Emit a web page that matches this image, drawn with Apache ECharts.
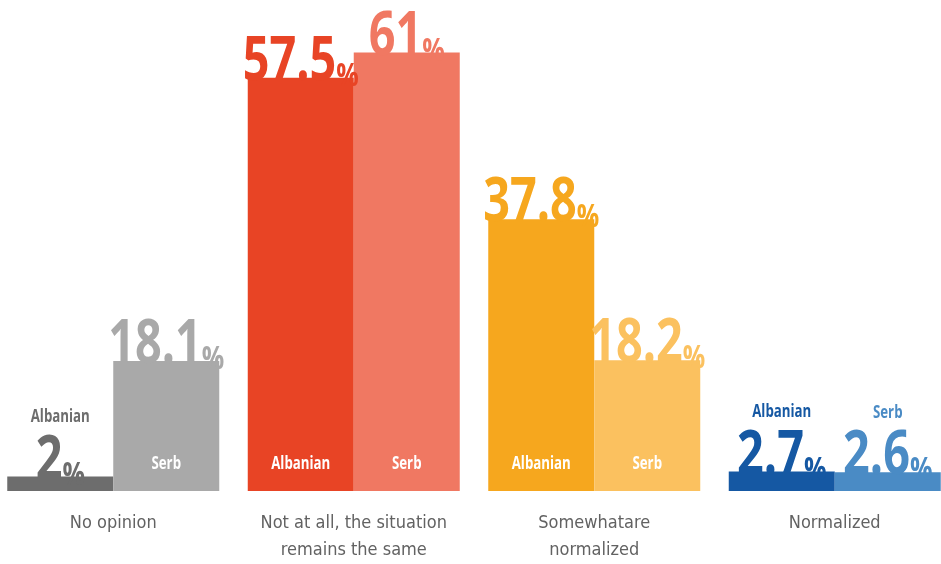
<!DOCTYPE html>
<html>
<head>
<meta charset="utf-8">
<style>
  html, body { margin: 0; padding: 0; background: #ffffff; overflow: hidden; }
  body { width: 941px; height: 564px; position: relative; }
  /* the plot runs slightly past both page edges */
  #chart { position: absolute; left: -7px; top: 0; width: 962px; height: 564px; }
</style>
<script src="https://cdn.jsdelivr.net/npm/echarts@6/dist/echarts.min.js"></script>
</head>
<body>
<div id="chart"></div>
<script>
// Survey answers split by respondent group
const categories = [
  'No opinion',
  'Not at all, the situation\nremains the same',
  'Somewhatare\nnormalized',
  'Normalized'
];
const groupNames = ['Albanian', 'Serb'];
const albanian = [2, 57.5, 37.8, 2.7];
const serb = [18.1, 61, 18.2, 2.6];

const albanianColors = ['#6d6d6d', '#e84425', '#f6a71e', '#1558a3'];
const serbColors = ['#a9a9a9', '#f07862', '#fbc15f', '#4a8bc5'];

const LABEL_FONT = '"Open Sans", "DejaVu Sans", sans-serif';
const AXIS_FONT = '"DejaVu Sans Condensed", "DejaVu Sans", sans-serif';
const BAR_W = 106;
const SQUEEZE = 0.78;          // horizontal compression for the condensed look
const NAME_INSIDE_MIN = 10;    // shorter bars carry their group name above the value

// rich styles for "57.5%" style labels; the larger lineHeight on % keeps baselines aligned
function valueRich(color) {
  return {
    v: { fontFamily: LABEL_FONT, fontWeight: 'bold', fontSize: 60, lineHeight: 60, fill: color, verticalAlign: 'bottom' },
    p: { fontFamily: LABEL_FONT, fontWeight: 'bold', fontSize: 32, lineHeight: 44, fill: color, verticalAlign: 'bottom' }
  };
}

// draws value, and group name (inside the bar or above the value) for one bar
function labelRenderer(side, name, colors) {
  return function (params, api) {
    const i = params.dataIndex;
    const val = api.value(1);
    const top = api.coord([api.value(0), val]);
    const base = api.coord([api.value(0), 0]);
    const x = top[0] + side * BAR_W / 2;
    const baseline = top[1] + 2;
    const color = colors[i];
    const children = [{
      type: 'text', x: x, y: baseline + 13, scaleX: SQUEEZE,
      style: {
        text: '{v|' + val + '}{p|%}', rich: valueRich(color),
        align: 'center', verticalAlign: 'bottom'
      }
    }];
    const inside = val >= NAME_INSIDE_MIN;
    children.push({
      type: 'text', x: x,
      y: inside ? base[1] - 27 : baseline - 61,
      scaleX: SQUEEZE,
      style: {
        text: name, fill: inside ? '#ffffff' : color,
        fontFamily: LABEL_FONT, fontWeight: 'bold', fontSize: 17,
        align: 'center', verticalAlign: 'middle'
      }
    });
    return { type: 'group', children: children };
  };
}

const chart = echarts.init(document.getElementById('chart'), null, { renderer: 'canvas' });
chart.setOption({
  animation: false,
  backgroundColor: '#ffffff',
  grid: { left: 0, right: 0, top: 0, bottom: 72 },
  xAxis: {
    type: 'category', data: categories,
    axisLine: { show: false }, axisTick: { show: false },
    axisLabel: {
      margin: 19, color: '#626262', fontFamily: AXIS_FONT, fontSize: 18, lineHeight: 27,
      interval: 0
    }
  },
  yAxis: { type: 'value', min: 0, max: 68.3, show: false, splitLine: { show: false } },
  series: [
    {
      name: groupNames[0], type: 'bar', barWidth: BAR_W, barGap: '0%',
      data: albanian.map((v, i) => ({ value: v, itemStyle: { color: albanianColors[i] } }))
    },
    {
      name: groupNames[1], type: 'bar', barWidth: BAR_W, barGap: '0%',
      data: serb.map((v, i) => ({ value: v, itemStyle: { color: serbColors[i] } }))
    },
    {
      name: groupNames[0] + ' labels', type: 'custom', z: 5, silent: true,
      encode: { x: 0, y: 1 },
      renderItem: labelRenderer(-1, groupNames[0], albanianColors),
      data: albanian.map((v, i) => [i, v])
    },
    {
      name: groupNames[1] + ' labels', type: 'custom', z: 5, silent: true,
      encode: { x: 0, y: 1 },
      renderItem: labelRenderer(1, groupNames[1], serbColors),
      data: serb.map((v, i) => [i, v])
    }
  ]
});
</script>
</body>
</html>
